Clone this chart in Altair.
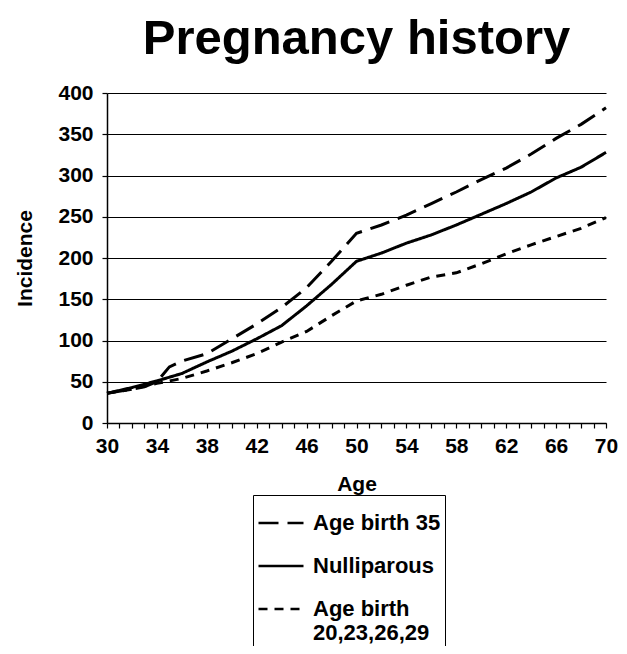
import altair as alt
import pandas as pd

series_names = ["Age birth 35", "Nulliparous", "Age birth 20,23,26,29"]

ages_birth35 = [30, 32, 33, 34, 35, 36, 38, 40, 42, 44, 46, 48, 50, 52, 54, 56, 58, 60, 62, 64, 66, 68, 70]
birth35 = [36, 41, 44, 50, 68, 75, 84, 102, 120, 140, 164, 196, 230, 240, 252, 266, 280, 295, 309, 326, 345, 362, 382]

ages_nulliparous = [30, 32, 34, 36, 38, 40, 42, 44, 46, 48, 50, 52, 54, 56, 58, 60, 62, 64, 66, 68, 70]
nulliparous = [36, 43, 51, 60, 74, 87, 102, 118, 142, 168, 196, 206, 218, 228, 240, 253, 266, 280, 297, 310, 328]

ages_birth_young = [30, 32, 34, 36, 38, 40, 42, 44, 46, 48, 50, 52, 54, 56, 58, 60, 62, 64, 66, 68, 70]
birth_young = [36, 41, 48, 54, 63, 73, 84, 98, 111, 130, 148, 156, 167, 177, 182, 193, 205, 216, 226, 236, 249]

x_ticks = list(range(30, 71))
y_ticks = list(range(0, 401, 50))

rows = []
for name, ages, vals in zip(series_names,
                            [ages_birth35, ages_nulliparous, ages_birth_young],
                            [birth35, nulliparous, birth_young]):
    for a, v in zip(ages, vals):
        rows.append({"Age": a, "Incidence": v, "Series": name})
df = pd.DataFrame(rows)

FONT = "Liberation Sans"

chart = alt.Chart(df).mark_line(color="black", strokeWidth=3).encode(
    x=alt.X("Age:Q",
            scale=alt.Scale(domain=[30, 70], nice=False),
            axis=alt.Axis(values=x_ticks, labelExpr="(datum.value - 30) % 4 == 0 ? datum.label : ''",
                          labelOverlap=False, grid=False, tickSize=5, tickColor="black", tickWidth=1.2,
                          domainColor="black", domainWidth=1.5,
                          labelFont=FONT, labelFontSize=21, labelFontWeight="bold", labelColor="black",
                          labelPadding=7, labelFlush=False,
                          title="Age", titleFont=FONT, titleFontSize=21, titleFontWeight="bold",
                          titleColor="black", titlePadding=17)),
    y=alt.Y("Incidence:Q",
            scale=alt.Scale(domain=[0, 400], nice=False),
            axis=alt.Axis(values=y_ticks, grid=True, gridColor="black", gridWidth=1.2, gridOpacity=1,
                          tickSize=5, tickColor="black", tickWidth=1.2,
                          domainColor="black", domainWidth=1.5,
                          labelFont=FONT, labelFontSize=21, labelFontWeight="bold", labelColor="black",
                          labelPadding=9,
                          title="Incidence", titleFont=FONT, titleFontSize=21, titleFontWeight="bold",
                          titleColor="black", titlePadding=22)),
    strokeDash=alt.StrokeDash("Series:N",
                              scale=alt.Scale(domain=series_names, range=[[20, 9], [1, 0], [9, 7]]),
                              sort=series_names,
                              legend=alt.Legend(title=None, orient="none", legendX=146, legendY=402,
                                                direction="vertical", strokeColor="black", padding=4,
                                                symbolType="stroke", symbolSize=2025, symbolStrokeWidth=2.5,
                                                symbolStrokeColor="black", labelOffset=8,
                                                labelFont=FONT, labelFontSize=22, labelFontWeight="bold",
                                                labelColor="black", labelLimit=300, rowPadding=8,
                                                labelExpr="datum.label == 'Age birth 20,23,26,29' ? ['Age birth', '20,23,26,29'] : datum.label")),
).properties(
    width=499, height=330,
    title=alt.TitleParams("Pregnancy history", font=FONT, fontSize=49, fontWeight="bold",
                          color="black", anchor="middle", offset=18),
    autosize=alt.AutoSizeParams(type="none"),
    padding={"left": 99, "top": 85, "right": 12, "bottom": 223},
).configure_view(stroke=None)

chart.save("out.html", embed_options={"renderer": "svg", "actions": False})
